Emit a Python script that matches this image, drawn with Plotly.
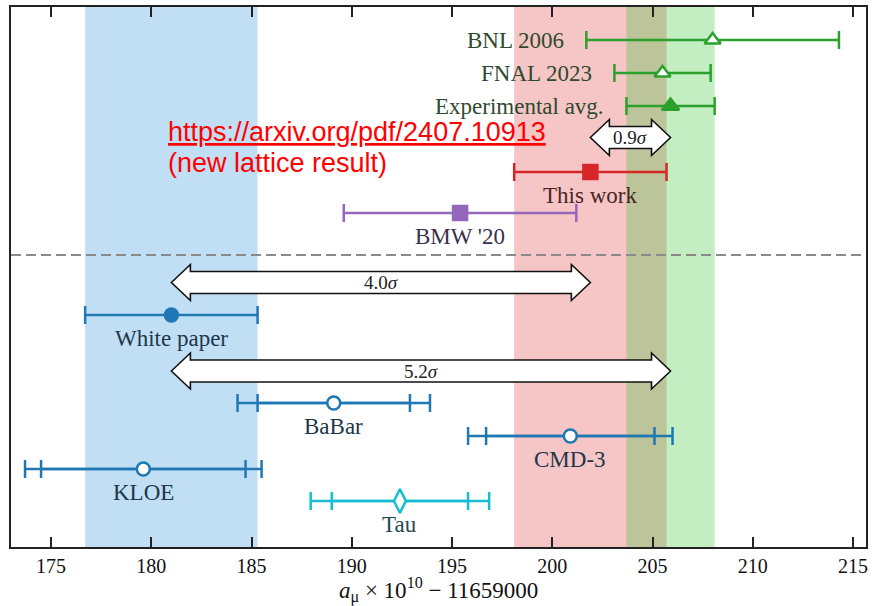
import plotly.graph_objects as go

# ---------------- data ----------------
labels = ["BNL 2006", "FNAL 2023", "Experimental avg.", "This work", "BMW '20",
          "White paper", "BaBar", "CMD-3", "KLOE", "Tau"]
values = [208.0, 205.5, 205.9, 201.9, 195.4, 181.0, 189.1, 200.9, 179.6, 192.4]
err_total = [6.3, 2.4, 2.2, 3.8, 5.8, 4.3, 4.8, 5.1, 5.9, 4.45]
err_inner = [None, None, None, None, None, None, 3.8, 4.2, 5.1, 3.4]

bands = [  # (label, centre, half-width)
    ("White paper", 181.0, 4.3),
    ("This work", 201.9, 3.8),
    ("Experimental avg.", 205.9, 2.2),
]
arrows = [  # (from, to, text)
    ("This work", "Experimental avg.", "0.9"),
    ("White paper", "This work", "4.0"),
    ("White paper", "Experimental avg.", "5.2"),
]
xticks = [175, 180, 185, 190, 195, 200, 205, 210, 215]

# ---------------- layout / style ----------------
rows = {"BNL 2006": 33, "FNAL 2023": 66, "Experimental avg.": 99, "This work": 165,
        "BMW '20": 206, "White paper": 308, "BaBar": 396, "CMD-3": 429,
        "KLOE": 462, "Tau": 494}
arrow_rows = {"0.9": 130.5, "4.0": 275.5, "5.2": 364}
divider_row = 248

style = {
    "BNL 2006": dict(color="#2ca02c", symbol="triangle-up", fill="white", size=14, lab="#2e4a2e", side="left"),
    "FNAL 2023": dict(color="#2ca02c", symbol="triangle-up", fill="white", size=14, lab="#2e4a2e", side="left"),
    "Experimental avg.": dict(color="#2ca02c", symbol="triangle-up", fill="#2ca02c", size=15, lab="#2e4a2e", side="left"),
    "This work": dict(color="#d62728", symbol="square", fill="#d62728", size=14, lab="#4a2424", side="below"),
    "BMW '20": dict(color="#9467bd", symbol="square", fill="#9467bd", size=14, lab="#3a2f4a", side="below"),
    "White paper": dict(color="#1f77b4", symbol="circle", fill="#1f77b4", size=13, lab="#21364a", side="below"),
    "BaBar": dict(color="#1f77b4", symbol="circle", fill="white", size=13, lab="#21364a", side="below"),
    "CMD-3": dict(color="#1f77b4", symbol="circle", fill="white", size=13, lab="#21364a", side="below"),
    "KLOE": dict(color="#1f77b4", symbol="circle", fill="white", size=13, lab="#21364a", side="below"),
    "Tau": dict(color="#17becf", symbol="diamond-tall", fill="white", size=17, lab="#1f4a4f", side="below"),
}
band_colors = {"White paper": "rgba(30,140,220,0.28)",
               "This work": "rgba(220,40,40,0.27)",
               "Experimental avg.": "rgba(52,198,52,0.30)"}

SERIF = "Liberation Serif"
XMIN, XMAX = 173.0, 215.65
W, H = 872, 606
ML, MR, MT, MB = 11, 6, 7, 59
plot_w, plot_h = W - ML - MR, H - MT - MB
px_per_unit = plot_w / (XMAX - XMIN)

fig = go.Figure()

# bands
for name, c, hw in bands:
    fig.add_shape(type="rect", xref="x", yref="paper", x0=c - hw, x1=c + hw, y0=0, y1=1,
                  fillcolor=band_colors[name], line_width=0, layer="below")

# divider
fig.add_shape(type="line", xref="paper", yref="y", x0=0, x1=1, y0=divider_row, y1=divider_row,
              line=dict(color="#8a8a8a", width=2, dash="10px,5px"))

# arrows
idx = {n: i for i, n in enumerate(labels)}
hl = 19 / px_per_unit
hs, hh = 11, 18
for a, b, t in arrows:
    x1, x2 = values[idx[a]], values[idx[b]]
    yc = arrow_rows[t]
    path = (f"M {x1},{yc} L {x1+hl},{yc-hh} L {x1+hl},{yc-hs} L {x2-hl},{yc-hs} "
            f"L {x2-hl},{yc-hh} L {x2},{yc} L {x2-hl},{yc+hh} L {x2-hl},{yc+hs} "
            f"L {x1+hl},{yc+hs} L {x1+hl},{yc+hh} Z")
    fig.add_shape(type="path", xref="x", yref="y", path=path, fillcolor="white",
                  line=dict(color="#111111", width=1.6))
    fig.add_annotation(x=(x1 + x2) / 2, y=yc, xref="x", yref="y", showarrow=False,
                       text=f"{t}<i>σ</i>", font=dict(family=SERIF, size=19, color="#222"))

# points with error bars
for i, n in enumerate(labels):
    s = style[n]
    y = rows[n]
    errs = [err_total[i]] + ([err_inner[i]] if err_inner[i] is not None else [])
    for e in errs:
        fig.add_trace(go.Scatter(
            x=[values[i]], y=[y], mode="markers",
            marker=dict(size=2, color=s["color"]),
            error_x=dict(type="data", array=[e], color=s["color"], thickness=2.5, width=9),
            showlegend=False, hoverinfo="skip"))
    fig.add_trace(go.Scatter(
        x=[values[i]], y=[y], mode="markers",
        marker=dict(symbol=s["symbol"], size=s["size"], color=s["fill"],
                    line=dict(color=s["color"], width=2.5)),
        showlegend=False, name=n))
    if s["side"] == "left":
        fig.add_annotation(x=values[i] - err_total[i], y=y, xref="x", yref="y", showarrow=False,
                           xanchor="right", xshift=-20, text=n,
                           font=dict(family=SERIF, size=23, color=s["lab"]))
    else:
        fig.add_annotation(x=values[i], y=y, xref="x", yref="y", showarrow=False,
                           yshift=-23, text=n,
                           font=dict(family=SERIF, size=23, color=s["lab"]))

# red note (positions given in pixels of the page, converted to paper coords)
note_lines = ["<u>https://arxiv.org/pdf/2407.10913</u>", "(new lattice result)"]
note_px = [(166, 132), (166, 163)]
for txt, (px, py) in zip(note_lines, note_px):
    fig.add_annotation(x=(px - ML) / plot_w, y=1 - (py - MT) / plot_h,
                       xref="paper", yref="paper", showarrow=False,
                       xanchor="left", yanchor="middle", text=txt,
                       font=dict(family="Liberation Sans", size=27, color="#ff0000"))

# x-axis title
fig.add_annotation(x=0.5, y=0, xref="paper", yref="paper", showarrow=False,
                   yanchor="middle", yshift=-43,
                   text="<i>a</i><sub>μ</sub> × 10<sup>10</sup> − 11659000",
                   font=dict(family=SERIF, size=23, color="#111"))

fig.update_layout(
    width=W, height=H, margin=dict(l=ML, r=MR, t=MT, b=MB, autoexpand=False),
    plot_bgcolor="white", paper_bgcolor="white",
    xaxis=dict(range=[XMIN, XMAX], tickvals=xticks, ticktext=[str(v) for v in xticks],
               ticks="inside", ticklen=10, tickwidth=1.5, tickcolor="#222",
               showline=True, linecolor="#222", linewidth=1.8, mirror="ticks",
               showgrid=False, zeroline=False, automargin=False,
               tickfont=dict(family=SERIF, size=20, color="#111")),
    yaxis=dict(range=[plot_h, 0], showticklabels=False, ticks="",
               showline=True, linecolor="#222", linewidth=1.8, mirror=True,
               showgrid=False, zeroline=False, automargin=False),
)

fig.write_html("out.html", config={"displayModeBar": False},
               post_script="document.body.style.margin='0';document.body.style.overflow='hidden';")
